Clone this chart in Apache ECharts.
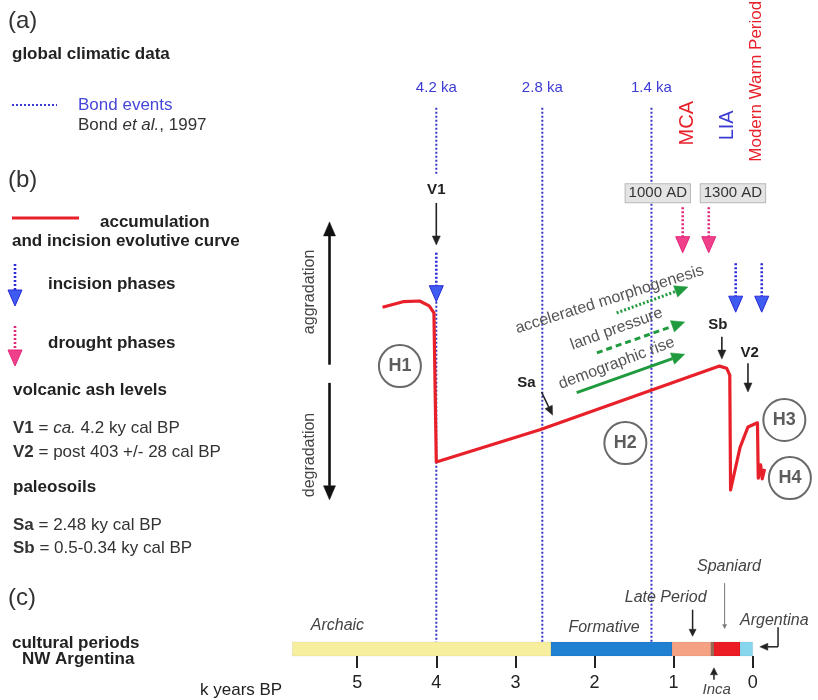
<!DOCTYPE html>
<html>
<head>
<meta charset="utf-8">
<script src="https://cdn.jsdelivr.net/npm/echarts@6/dist/echarts.min.js"></script>
<style>
html,body{margin:0;padding:0;background:#fff}
#main{width:818px;height:700px}
</style>
</head>
<body>
<div id="main"></div>
<script>
// x = k years BP, y = relative valley-floor level (0 bottom .. 100 top)
var curveKy    = [4.68, 4.42, 4.21, 4.09, 4.03, 4.00, 2.69, 0.42, 0.33, 0.29, 0.28, 0.16, 0.06, -0.06, -0.07, -0.10, -0.12, -0.15];
var curveLevel = [56.1, 56.9, 57.0, 56.3, 55.3, 34.0, 38.6, 47.7, 47.4, 46.4, 30.0, 36.1, 39.0, 39.6, 31.7, 33.6, 31.6, 33.0];

var bondKy = [4.0, 2.66, 1.28];
var bondLabels = ['4.2 ka', '2.8 ka', '1.4 ka'];
// [ky, from level, to level]
var bondSegments = [[4.0, 84.6, 75.0], [4.0, 56.9, 8.3], [2.66, 84.6, 8.3], [1.28, 84.6, 8.3]];

var incisionKy = [4.0, 0.215, -0.114];
var incisionFrom = [63.9, 62.4, 62.4];
var incisionTo = [56.9, 55.4, 55.4];
var droughtKy = [0.885, 0.556];
var droughtFrom = 70.4, droughtTo = 63.9;
var droughtDates = ['1000 AD', '1300 AD'];
var droughtDateKy = [1.20, 0.25];

var horizonNames = ['H1', 'H2', 'H3', 'H4'];
var horizonKy = [4.46, 1.61, -0.40, -0.47];
var horizonLevel = [47.7, 36.7, 40.0, 31.7];

var markerNames = ['V1', 'Sa', 'Sb', 'V2'];
var markerKy = [4.0, 2.86, 0.44, 0.04];
var markerLevel = [72.9, 45.3, 53.6, 49.6];
// black arrows: [x1, y1, x2, y2, head]
var markerArrows = [[4.0, 71.0, 4.0, 65.0, 1], [2.67, 44.0, 2.53, 40.7, 1], [0.39, 51.9, 0.39, 48.7, 1], [0.06, 48.1, 0.06, 44.0, 1]];

var trendNames = ['accelerated morphogenesis', 'land pressure', 'demographic rise'];
var trendArrows = [[1.72, 55.3, 0.82, 59.0], [1.97, 49.6, 0.86, 54.0], [2.225, 43.9, 0.86, 49.4]];
var trendLabelKy = [1.81, 1.72, 1.72];
var trendLabelLevel = [57.2, 53.0, 48.1];
var trendAngle = [17.5, 20, 20.5];

var climateNames = ['MCA', 'LIA'];
var climateKy = [0.83, 0.32];
var climateLevel = [82.4, 82.1];

var periodNames = ['Archaic', 'Formative', 'Late Period', 'Inca', 'Spaniard', 'Argentina'];
var periodStart = [5.82, 2.55, 1.02, 0.53, 0.49, 0.16];
var periodEnd   = [2.55, 1.02, 0.53, 0.49, 0.16, 0.0];
var periodLabelKy = [5.25, 1.88, 1.10, 0.455, 0.30, 0.16];
var periodLabelLevel = [10.7, 10.4, 14.6, 1.4, 19.0, 11.4];

var tickValues = [0, 1, 2, 3, 4, 5];

var FONT = '"Liberation Sans", Arial, Helvetica, sans-serif';
var periodColors = ['#f8ef9e', '#1f80d2', '#f4a283', '#9a6a55', '#ec1c24', '#88d6ee'];

var chart = echarts.init(document.getElementById('main'));

function arrowRender(st) {
  return function (params, api) {
    var a = api.coord([api.value(0), api.value(1)]);
    var b = api.coord([api.value(2), api.value(3)]);
    var head = api.value(4);
    var dx = b[0] - a[0], dy = b[1] - a[1];
    var L = Math.sqrt(dx * dx + dy * dy) || 1, ux = dx / L, uy = dy / L;
    var hl = head ? st.hl : 0;
    var bx = b[0] - ux * hl, by = b[1] - uy * hl;
    var ch = [{type: 'line', shape: {x1: a[0], y1: a[1], x2: bx, y2: by},
      style: {stroke: st.color, lineWidth: st.w, lineDash: st.dash || null}}];
    if (head) {
      ch.push({type: 'polygon', shape: {points: [[b[0], b[1]], [bx - uy * st.hw, by + ux * st.hw], [bx + uy * st.hw, by - ux * st.hw]]},
        style: {fill: st.fill || st.color, stroke: st.color, lineWidth: st.bw || 0.5}});
    }
    return {type: 'group', children: ch};
  };
}
function arrowSeries(data, st) {
  return {type: 'custom', xAxisIndex: 0, yAxisIndex: 0, silent: true, z: st.z || 5,
    data: data.map(function (d) { return d.length > 4 ? d : d.concat([1]); }), renderItem: arrowRender(st)};
}
function textSeries(xs, ys, texts, st) {
  return {type: 'custom', xAxisIndex: 0, yAxisIndex: 0, silent: true, z: st.z || 6,
    data: xs.map(function (x, i) { return [x, ys[i]]; }),
    renderItem: function (params, api) {
      var p = api.coord([api.value(0), api.value(1)]);
      var i = params.dataIndex;
      var rot = Array.isArray(st.rot) ? st.rot[i] : (st.rot || 0);
      var style = {text: texts[i], font: st.font, fill: st.color, align: st.align || 'center', verticalAlign: 'middle'};
      if (st.box) { style.backgroundColor = '#e4e4e4'; style.borderColor = '#b8b8b8'; style.borderWidth = 1; style.padding = [2, 3, 1, 3]; }
      return {type: 'text', x: p[0], y: p[1], rotation: rot * Math.PI / 180, style: style};
    }};
}

var series = [];

// Bond event lines
bondSegments.forEach(function (s) {
  series.push({type: 'line', xAxisIndex: 0, yAxisIndex: 0, silent: true, symbol: 'none', z: 2,
    data: [[s[0], s[1]], [s[0], s[2]]],
    lineStyle: {color: '#3636c8', width: 2, type: [2, 2]}});
});
series.push(textSeries(bondKy, bondKy.map(function () { return 87.4; }), bondLabels,
  {font: '15px ' + FONT, color: '#3b3bd4'}));

// accumulation / incision curve
series.push({type: 'line', xAxisIndex: 0, yAxisIndex: 0, silent: true, symbol: 'none', z: 3,
  data: curveKy.map(function (x, i) { return [x, curveLevel[i]]; }),
  lineStyle: {color: '#e8202a', width: 3.2, join: 'round'}});

// incision (blue) and drought (pink) arrows
series.push(arrowSeries(incisionKy.map(function (x, i) { return [x, incisionFrom[i], x, incisionTo[i]]; }),
  {color: '#2a2ad8', fill: '#3f5cf0', w: 2.6, dash: [2, 2], hl: 16, hw: 7, bw: 1}));
series.push(arrowSeries(droughtKy.map(function (x) { return [x, droughtFrom, x, droughtTo]; }),
  {color: '#e3267a', fill: '#f0408a', w: 2.6, dash: [2, 2], hl: 16, hw: 7, bw: 1}));
series.push(textSeries(droughtDateKy, [72.4, 72.4], droughtDates, {font: '15px ' + FONT, color: '#333', box: true}));

// volcanic ash & paleosoil markers
series.push(arrowSeries(markerArrows, {color: '#222', w: 1.6, hl: 9, hw: 4}));
series.push(textSeries(markerKy, markerLevel, markerNames, {font: 'bold 15px ' + FONT, color: '#222'}));

// human-pressure trends
series.push(arrowSeries([trendArrows[0]], {color: '#1f9a3c', w: 3, dash: [2, 2], hl: 13, hw: 6}));
series.push(arrowSeries([trendArrows[1]], {color: '#1f9a3c', w: 3, dash: [6, 4], hl: 13, hw: 6}));
series.push(arrowSeries([trendArrows[2]], {color: '#1f9a3c', w: 3, hl: 13, hw: 6}));
series.push(textSeries(trendLabelKy, trendLabelLevel, trendNames, {font: '16px ' + FONT, color: '#555', rot: trendAngle, z: 7}));

// aggradation / degradation
series.push(arrowSeries([[5.35, 47.9, 5.35, 68.3], [5.35, 45.3, 5.35, 28.6]], {color: '#111', w: 2.6, hl: 14, hw: 6}));
series.push(textSeries([5.60, 5.60], [58.3, 35.0], ['aggradation', 'degradation'], {font: '16px ' + FONT, color: '#444', rot: 90}));

// climate periods
series.push(textSeries(climateKy.slice(0, 1), climateLevel.slice(0, 1), climateNames.slice(0, 1), {font: '20px ' + FONT, color: '#e8202a', rot: 90}));
series.push(textSeries(climateKy.slice(1), climateLevel.slice(1), climateNames.slice(1), {font: '20px ' + FONT, color: '#3b3bd4', rot: 90}));
series.push(textSeries([-0.05], [76.9], ['Modern Warm Period'], {font: '17px ' + FONT, color: '#e8202a', rot: 90, align: 'left'}));

// horizons
series.push({type: 'scatter', xAxisIndex: 0, yAxisIndex: 0, silent: true, z: 8, symbol: 'circle', symbolSize: 42,
  data: horizonKy.map(function (x, i) { return [x, horizonLevel[i]]; }),
  itemStyle: {color: '#fff', borderColor: '#444', borderWidth: 2},
  label: {show: true, position: 'inside', fontFamily: FONT, fontWeight: 'bold', fontSize: 18, color: '#333',
    formatter: function (p) { return horizonNames[p.dataIndex]; }}});

// cultural periods bar
series.push({type: 'custom', xAxisIndex: 1, yAxisIndex: 1, silent: true,
  data: periodStart.map(function (s, i) { return [s, periodEnd[i]]; }),
  renderItem: function (params, api) {
    var p1 = api.coord([api.value(0), 1]);
    var p2 = api.coord([api.value(1), 0]);
    return {type: 'rect', shape: {x: Math.min(p1[0], p2[0]), y: p1[1], width: Math.abs(p2[0] - p1[0]), height: p2[1] - p1[1]},
      style: {fill: periodColors[params.dataIndex], stroke: 'rgba(0,0,0,0.12)', lineWidth: 0.5}};
  }});
var plainIdx = [0, 1, 2, 4];
series.push(textSeries(plainIdx.map(function (i) { return periodLabelKy[i]; }), plainIdx.map(function (i) { return periodLabelLevel[i]; }),
  plainIdx.map(function (i) { return periodNames[i]; }), {font: 'italic 16px ' + FONT, color: '#444'}));
series.push(textSeries([periodLabelKy[3]], [periodLabelLevel[3]], [periodNames[3]], {font: 'italic 15px ' + FONT, color: '#444'}));
series.push(textSeries([periodLabelKy[5]], [periodLabelLevel[5]], [periodNames[5]], {font: 'italic 16px ' + FONT, color: '#444', align: 'left'}));
series.push(arrowSeries([[0.76, 12.9, 0.76, 9.1], [0.49, 2.9, 0.49, 4.6]], {color: '#222', w: 1.5, hl: 7, hw: 3.5}));
series.push(arrowSeries([[0.355, 16.7, 0.355, 10.2]], {color: '#777', w: 1, hl: 4, hw: 2}));
series.push(arrowSeries([[-0.32, 10.4, -0.32, 7.6, 0], [-0.32, 7.6, -0.09, 7.6, 1]], {color: '#222', w: 1.5, hl: 8, hw: 3.5}));

// left panel (legend text)
function T(x, y, text, font, fill, rich) {
  return {type: 'text', x: x, y: y, silent: true,
    style: {text: text, font: font, fill: fill || '#333', verticalAlign: 'middle', rich: rich}};
}
var B = 'bold 17px ' + FONT, R = '17px ' + FONT, H = '24px ' + FONT;
var rich = {b: {fontWeight: 'bold', fontSize: 17, fontFamily: FONT, fill: '#333'}, i: {fontStyle: 'italic', fontSize: 17, fontFamily: FONT, fill: '#333'}};
var graphic = [
  T(8, 21, '(a)', H, '#333'),
  T(12, 54, 'global climatic data', B, '#222'),
  {type: 'line', silent: true, shape: {x1: 12, y1: 105, x2: 57, y2: 105}, style: {stroke: '#3b3bd4', lineWidth: 2, lineDash: [2, 2]}},
  T(78, 105, 'Bond events', '17px ' + FONT, '#4646d8'),
  T(78, 125, 'Bond {i|et al.}, 1997', '17px ' + FONT, '#333', rich),
  T(8, 180, '(b)', H, '#333'),
  {type: 'line', silent: true, shape: {x1: 12, y1: 218, x2: 79, y2: 218}, style: {stroke: '#e8202a', lineWidth: 3.2}},
  T(100, 222, 'accumulation', B, '#222'),
  T(12, 241, 'and incision evolutive curve', B, '#222'),
  {type: 'line', silent: true, shape: {x1: 15, y1: 264, x2: 15, y2: 290}, style: {stroke: '#2a2ad8', lineWidth: 2.6, lineDash: [2, 2]}},
  {type: 'polygon', silent: true, shape: {points: [[8, 290], [22, 290], [15, 306]]}, style: {fill: '#3f5cf0', stroke: '#2a2ad8', lineWidth: 1}},
  T(48, 284, 'incision phases', B, '#222'),
  {type: 'line', silent: true, shape: {x1: 15, y1: 326, x2: 15, y2: 350}, style: {stroke: '#e3267a', lineWidth: 2.6, lineDash: [2, 2]}},
  {type: 'polygon', silent: true, shape: {points: [[8, 350], [22, 350], [15, 366]]}, style: {fill: '#f0408a', stroke: '#e3267a', lineWidth: 1}},
  T(48, 343, 'drought phases', B, '#222'),
  T(13, 390, 'volcanic ash levels', B, '#222'),
  T(13, 428, '{b|V1} = {i|ca.} 4.2 ky cal BP', R, '#333', rich),
  T(13, 452, '{b|V2} = post 403 +/- 28 cal BP', R, '#333', rich),
  T(13, 487, 'paleosoils', B, '#222'),
  T(13, 525, '{b|Sa} = 2.48 ky cal BP', R, '#333', rich),
  T(13, 548, '{b|Sb} = 0.5-0.34 ky cal BP', R, '#333', rich),
  T(8, 598, '(c)', H, '#333'),
  T(12, 643, 'cultural periods', B, '#222'),
  T(22, 659, 'NW Argentina', B, '#222'),
  T(200, 690, 'k years BP', R, '#222')
];

var option = {
  animation: false,
  backgroundColor: '#fff',
  textStyle: {fontFamily: FONT},
  grid: [
    {left: 286, width: 530, top: 0, height: 700},
    {left: 286, width: 530, top: 642, height: 14}
  ],
  xAxis: [
    {gridIndex: 0, type: 'value', inverse: true, min: -0.8, max: 5.9, show: false},
    {gridIndex: 1, type: 'value', inverse: true, min: -0.8, max: 5.9,
      axisLine: {show: false}, splitLine: {show: false},
      axisTick: {show: true, customValues: tickValues, length: 12, lineStyle: {color: '#222', width: 2}},
      axisLabel: {customValues: tickValues, fontSize: 18, color: '#222', margin: 18, fontFamily: FONT}}
  ],
  yAxis: [
    {gridIndex: 0, type: 'value', min: 0, max: 100, show: false},
    {gridIndex: 1, type: 'value', min: 0, max: 1, show: false}
  ],
  graphic: graphic,
  series: series
};
chart.setOption(option);
</script>
</body>
</html>
